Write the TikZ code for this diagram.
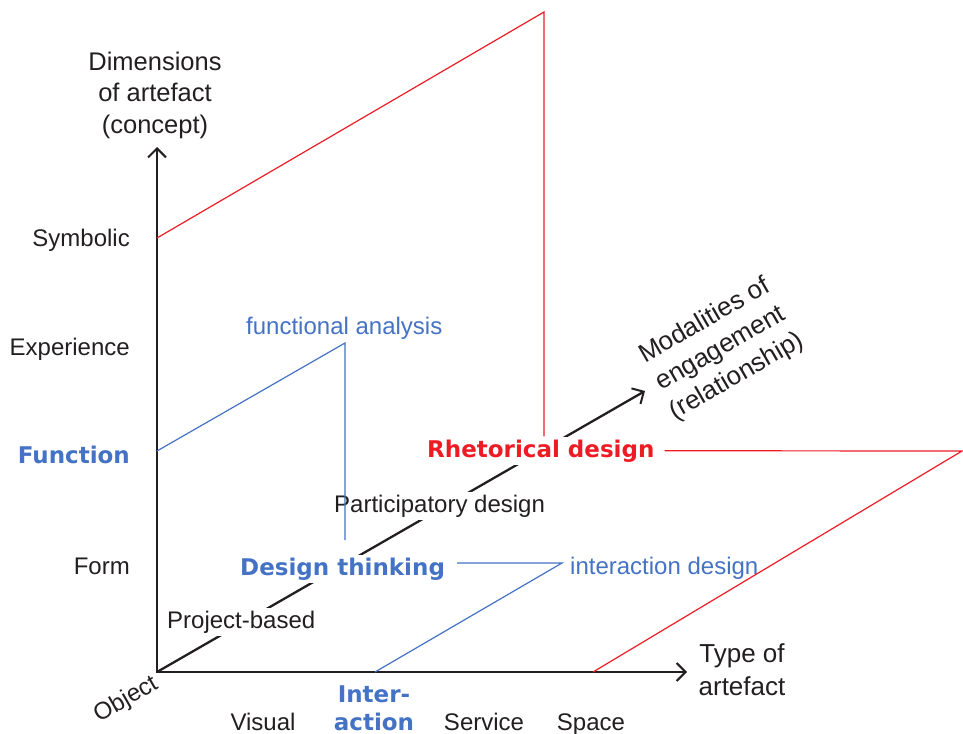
\documentclass[tikz,border=0pt]{standalone}
\usepackage{fontspec}
\setmainfont{Liberation Sans}
\newfontfamily\dvs{DejaVu Sans}
\usetikzlibrary{arrows.meta,calc}
\definecolor{ink}{HTML}{231F20}
\definecolor{myblue}{HTML}{4472C4}
\definecolor{myred}{HTML}{ED1C24}
\begin{document}
\begin{tikzpicture}[x=1pt,y=-1pt,
  lbl/.style={font=\fontsize{24}{31.5}\selectfont, text=ink, inner sep=3pt},
  ttl/.style={font=\fontsize{25.5}{33}\selectfont, text=ink, inner sep=2pt},
  blbl/.style={font=\dvs\bfseries\fontsize{23}{30}\selectfont, inner sep=3pt},
  wf/.style={fill=white},
  barb/.tip={Straight Barb[length=9pt,width=18pt,line width=2pt]},
  axis/.style={line width=2.3pt, draw=ink},
  bl/.style={draw=myblue, line width=1.2pt},
  rl/.style={draw=myred, line width=1.2pt}]
\useasboundingbox (0,0) rectangle (963,733);
% axes
\coordinate (O) at (157,672);
\coordinate (ytip) at (157,147);
\coordinate (xtip) at (687,672);
\coordinate (ztip) at (645,391);
\draw[axis, -{barb}] (O) -- (ztip);
% nodes over the diagonal
\node[lbl, wf, anchor=base west] (proj) at (164,628) {Project-based};
\node[blbl, wf, text=myblue, anchor=base west] (dt) at (237,575) {Design thinking};
\node[lbl, wf, anchor=base west] (part) at (331,512) {Participatory design};
\node[blbl, wf, text=myred, anchor=base west] (rhet) at (424,457) {Rhetorical design};
\draw[axis, {barb}-{barb}] (ytip) -- (O) -- (xtip);
% axis titles
\node[ttl, anchor=base] (d1) at (155,71) {Dimensions};
\node[ttl, anchor=base] (d2) at (155,102) {of artefact};
\node[ttl, anchor=base] (d3) at (155,134) {(concept)};
\node[ttl, font=\fontsize{26}{33}\selectfont, anchor=base] (t1) at (742,662) {Type of};
\node[ttl, font=\fontsize{26}{33}\selectfont, anchor=base] (t2) at (742,695) {artefact};
\node[ttl, font=\fontsize{26}{32}\selectfont, rotate=30, align=center] (mod) at (721,349) {Modalities of\\engagement\\(relationship)};
% vertical axis labels
\node[lbl, anchor=base east] (sym) at (133,246) {Symbolic};
\node[lbl, anchor=base east] (exp) at (133,355) {Experience};
\node[blbl, text=myblue, anchor=base east] (fun) at (133,463) {Function};
\node[lbl, anchor=base east] (form) at (133,574) {Form};
% horizontal axis labels
\node[lbl, rotate=30, anchor=north east, inner sep=1pt] (obj) at (151,671) {Object};
\node[lbl, anchor=base, inner sep=1pt] (vis) at (263,730) {Visual};
\node[blbl, text=myblue, anchor=base, inner sep=1pt] (int1) at (374,702) {Inter-};
\node[blbl, text=myblue, anchor=base, inner sep=1pt] (int2) at (374,730) {action};
\node[lbl, anchor=base, inner sep=1pt] (serv) at (484,730) {Service};
\node[lbl, anchor=base, inner sep=1pt] (spc) at (591,730) {Space};
% other labels
\node[lbl, text=myblue, anchor=base west] (fa) at (243,334) {functional analysis};
\node[lbl, text=myblue, anchor=base west] (ida) at (567,574) {interaction design};
% red lines
\coordinate (symp) at (157,238);
\coordinate (rpeak) at (544,12);
\coordinate (rcorner) at (962,451);
\coordinate (spacep) at (593,672);
\draw[rl] (symp) -- (rpeak) -- (rpeak |- rhet.north);
\draw[rl] ($(rhet.east)+(7,0)$) -- (rcorner) -- (spacep);
% blue lines
\coordinate (funp) at (157,451);
\coordinate (bpeak) at (345,343);
\coordinate (bend) at (345,540);
\coordinate (ipt) at (375,672);
\coordinate (icorner) at (562,563);
\draw[bl] (funp) -- (bpeak) -- (bend);
\draw[bl] (ipt) -- (icorner) -- ($(dt.east |- icorner)+(9,0)$);
\end{tikzpicture}
\end{document}
